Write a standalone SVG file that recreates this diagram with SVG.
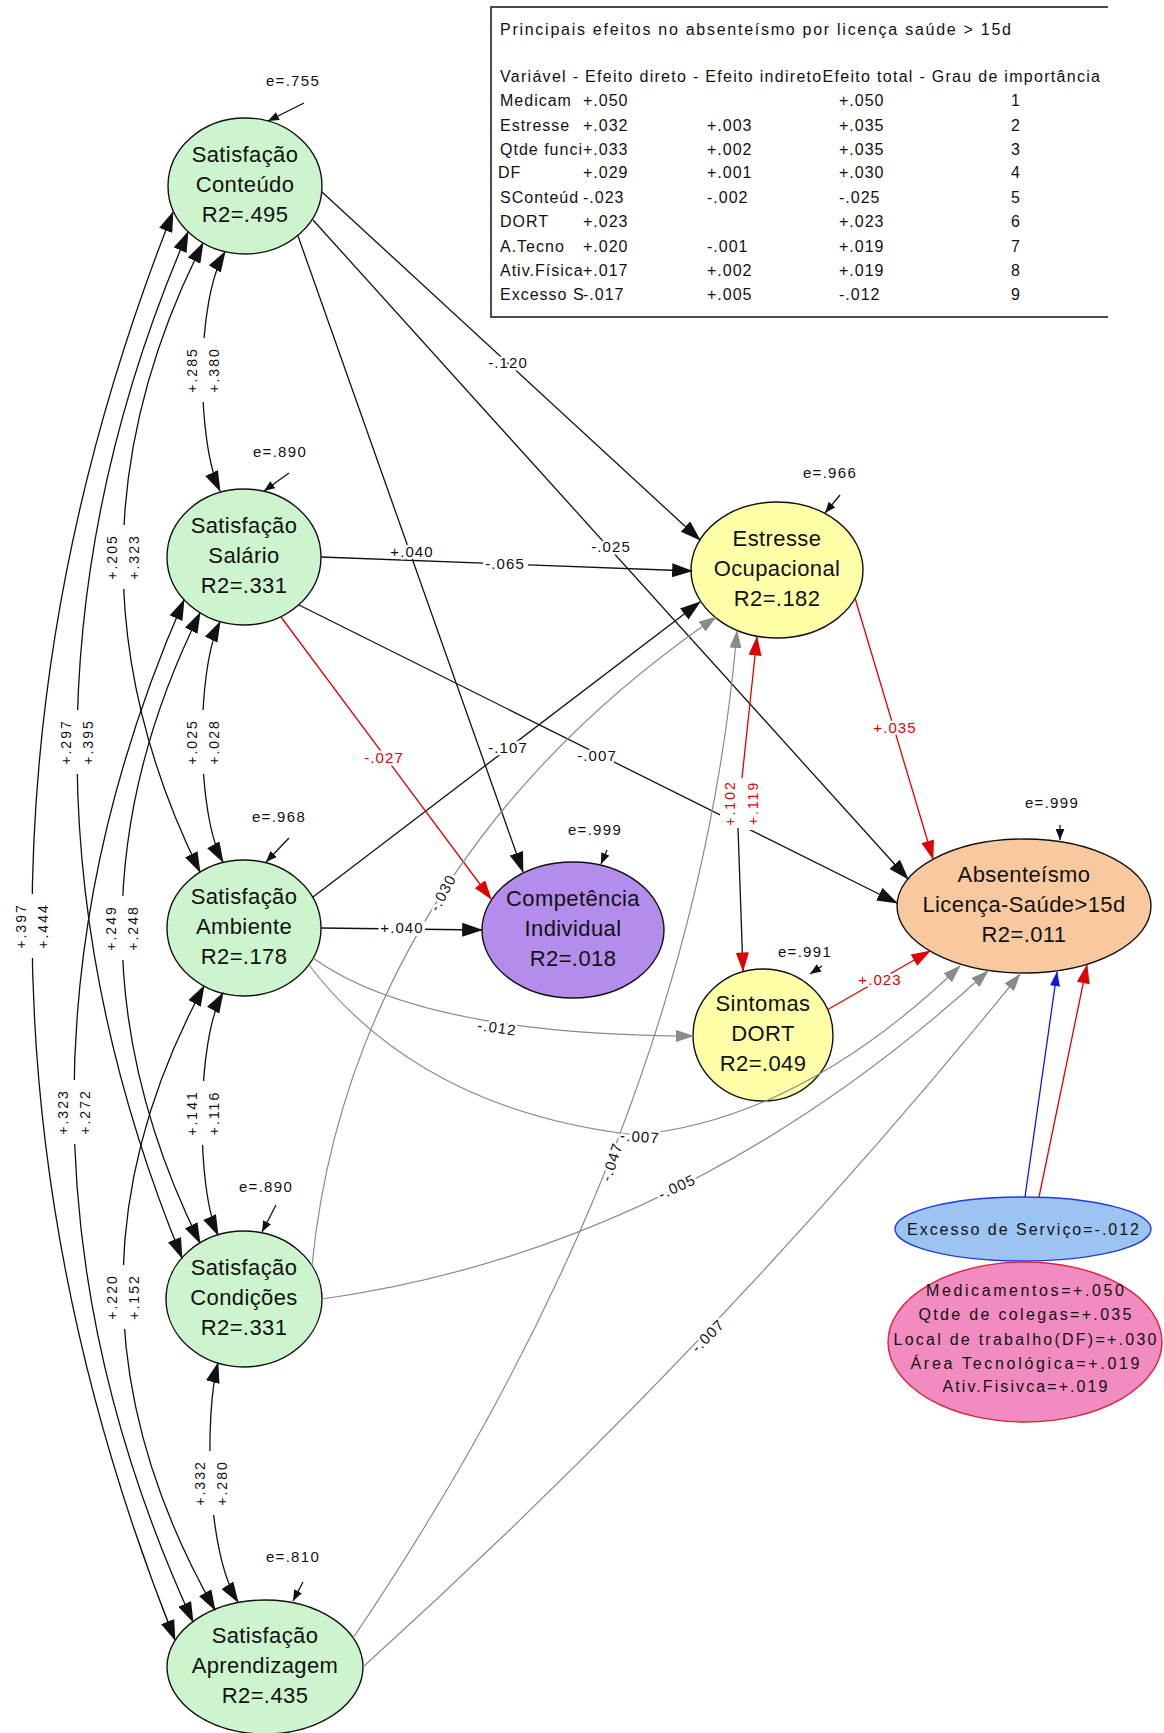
<svg xmlns="http://www.w3.org/2000/svg" width="1164" height="1733" viewBox="0 0 1164 1733">
<defs>
<style>
text{font-family:"Liberation Sans",Arial,sans-serif;fill:#111}
.nt{font-size:22px;text-anchor:middle;letter-spacing:0.4px}
.nd{stroke:#111;stroke-width:1.4}
.sat{fill:#cdf5cd}
.yel{fill:#ffffa8}
.pur{fill:#b48ceb}
.pch{fill:#f8c99e}
.ln{fill:none;stroke:#111;stroke-width:1.3}
.rd{stroke:#e00000}
.gr{stroke:#8a8a8a;stroke-width:1.2}
.bl{stroke:#1414e6}
.lb{font-size:15px;letter-spacing:1.1px;text-anchor:middle;stroke:#fff;stroke-width:5px;stroke-linejoin:round;paint-order:stroke}
.lr{fill:#e00000}
.cl{font-size:14px;letter-spacing:2px;text-anchor:middle}
.el{font-size:15px;letter-spacing:1.3px;text-anchor:middle}
.tb{font-size:16px;letter-spacing:1px}
.rk{text-anchor:middle}
.gap{fill:#fff}
</style>
<marker id="ak" viewBox="0 0 18 12" refX="17" refY="6" markerWidth="21" markerHeight="14" markerUnits="userSpaceOnUse" orient="auto-start-reverse"><path d="M0,0L18,6L0,12z" fill="#111"/></marker>
<marker id="ar" viewBox="0 0 18 12" refX="17" refY="6" markerWidth="20" markerHeight="13" markerUnits="userSpaceOnUse" orient="auto-start-reverse"><path d="M0,0L18,6L0,12z" fill="#e00000"/></marker>
<marker id="ag" viewBox="0 0 18 12" refX="17" refY="6" markerWidth="18" markerHeight="12" markerUnits="userSpaceOnUse" orient="auto-start-reverse"><path d="M0,0L18,6L0,12z" fill="#8a8a8a"/></marker>
<marker id="ab" viewBox="0 0 18 12" refX="17" refY="6" markerWidth="15" markerHeight="10" markerUnits="userSpaceOnUse" orient="auto-start-reverse"><path d="M0,0L18,6L0,12z" fill="#1414e6"/></marker>
<marker id="ae" viewBox="0 0 10 8" refX="10" refY="4" markerWidth="11" markerHeight="9" markerUnits="userSpaceOnUse" orient="auto"><path d="M0,0L10,4L0,8z" fill="#111"/></marker>
</defs>
<rect width="1164" height="1733" fill="#fff"/>

<!-- summary table of effects -->
<g id="effects-table">
<path d="M1108,7H491V317H1108" fill="none" stroke="#111" stroke-width="1.5"/>
<text class="tb" x="500" y="35" textLength="511" lengthAdjust="spacing" style="letter-spacing:0">Principais efeitos no absenteísmo por licença saúde &gt; 15d</text>
<text class="tb" x="500" y="82" textLength="600" lengthAdjust="spacing" style="letter-spacing:0">Variável - Efeito direto - Efeito indiretoEfeito total - Grau de importância</text>
<g class="tb">
<text x="500" y="106">Medicam</text><text x="583" y="106">+.050</text><text x="839" y="106">+.050</text><text class="rk" x="1016" y="106">1</text>
<text x="500" y="131">Estresse</text><text x="583" y="131">+.032</text><text x="707" y="131">+.003</text><text x="839" y="131">+.035</text><text class="rk" x="1016" y="131">2</text>
<text x="500" y="155">Qtde funci</text><text x="583" y="155">+.033</text><text x="707" y="155">+.002</text><text x="839" y="155">+.035</text><text class="rk" x="1016" y="155">3</text>
<text x="498" y="178">DF</text><text x="583" y="178">+.029</text><text x="707" y="178">+.001</text><text x="839" y="178">+.030</text><text class="rk" x="1016" y="178">4</text>
<text x="500" y="203">SConteúd</text><text x="583" y="203">-.023</text><text x="707" y="203">-.002</text><text x="839" y="203">-.025</text><text class="rk" x="1016" y="203">5</text>
<text x="500" y="227">DORT</text><text x="583" y="227">+.023</text><text x="839" y="227">+.023</text><text class="rk" x="1016" y="227">6</text>
<text x="500" y="252">A.Tecno</text><text x="583" y="252">+.020</text><text x="707" y="252">-.001</text><text x="839" y="252">+.019</text><text class="rk" x="1016" y="252">7</text>
<text x="500" y="276">Ativ.Física</text><text x="583" y="276">+.017</text><text x="707" y="276">+.002</text><text x="839" y="276">+.019</text><text class="rk" x="1016" y="276">8</text>
<text x="500" y="300">Excesso S</text><text x="583" y="300">-.017</text><text x="707" y="300">+.005</text><text x="839" y="300">-.012</text><text class="rk" x="1016" y="300">9</text>
</g>
</g>

<!-- latent variables -->
<g id="n-conteudo"><ellipse class="nd sat" cx="245" cy="186" rx="77" ry="68"/><text class="nt" x="245" y="162">Satisfação</text><text class="nt" x="245" y="192">Conteúdo</text><text class="nt" x="245" y="222">R2=.495</text></g>
<g id="n-salario"><ellipse class="nd sat" cx="244" cy="557" rx="77" ry="68"/><text class="nt" x="244" y="533">Satisfação</text><text class="nt" x="244" y="563">Salário</text><text class="nt" x="244" y="593">R2=.331</text></g>
<g id="n-ambiente"><ellipse class="nd sat" cx="244" cy="928" rx="77" ry="68"/><text class="nt" x="244" y="904">Satisfação</text><text class="nt" x="244" y="934">Ambiente</text><text class="nt" x="244" y="964">R2=.178</text></g>
<g id="n-condicoes"><ellipse class="nd sat" cx="244" cy="1299" rx="78" ry="68"/><text class="nt" x="244" y="1275">Satisfação</text><text class="nt" x="244" y="1305">Condições</text><text class="nt" x="244" y="1335">R2=.331</text></g>
<g id="n-aprendizagem"><ellipse class="nd sat" cx="265" cy="1667" rx="98" ry="67"/><text class="nt" x="265" y="1643">Satisfação</text><text class="nt" x="265" y="1673">Aprendizagem</text><text class="nt" x="265" y="1703">R2=.435</text></g>
<g id="n-estresse"><ellipse class="nd yel" cx="777" cy="570" rx="86" ry="68"/><text class="nt" x="777" y="546">Estresse</text><text class="nt" x="777" y="576">Ocupacional</text><text class="nt" x="777" y="606">R2=.182</text></g>
<g id="n-competencia"><ellipse class="nd pur" cx="573" cy="930" rx="91" ry="68"/><text class="nt" x="573" y="906">Competência</text><text class="nt" x="573" y="936">Individual</text><text class="nt" x="573" y="966">R2=.018</text></g>
<g id="n-dort"><ellipse class="nd yel" cx="763" cy="1035" rx="70" ry="66"/><text class="nt" x="763" y="1011">Sintomas</text><text class="nt" x="763" y="1041">DORT</text><text class="nt" x="763" y="1071">R2=.049</text></g>
<g id="n-absenteismo"><ellipse class="nd pch" cx="1024" cy="906" rx="127" ry="67"/><text class="nt" x="1024" y="882">Absenteísmo</text><text class="nt" x="1024" y="912">Licença-Saúde&gt;15d</text><text class="nt" x="1024" y="942">R2=.011</text></g>
<g id="n-excesso"><ellipse cx="1023" cy="1229" rx="128" ry="32" fill="#9cc4f2" stroke="#1e3ce6" stroke-width="1.4"/><text x="1023" y="1235" font-size="16" text-anchor="middle" textLength="232" lengthAdjust="spacing">Excesso de Serviço=-.012</text></g>
<g id="n-outros"><ellipse cx="1025" cy="1342" rx="137" ry="80" fill="#f28cc0" stroke="#e0203c" stroke-width="1.4"/>
<text x="1025" y="1296" font-size="16" text-anchor="middle" textLength="198" lengthAdjust="spacing">Medicamentos=+.050</text>
<text x="1025" y="1320" font-size="16" text-anchor="middle" textLength="213" lengthAdjust="spacing">Qtde de colegas=+.035</text>
<text x="1025" y="1345" font-size="16" text-anchor="middle" textLength="263" lengthAdjust="spacing">Local de trabalho(DF)=+.030</text>
<text x="1025" y="1369" font-size="16" text-anchor="middle" textLength="229" lengthAdjust="spacing">Área Tecnológica=+.019</text>
<text x="1025" y="1392" font-size="16" text-anchor="middle" textLength="165" lengthAdjust="spacing">Ativ.Fisivca=+.019</text>
</g>

<!-- paths, covariances, residual arrows and their coefficients -->
<g id="connectors">
<!-- covariances between satisfaction factors -->
<g class="ln" marker-start="url(#ak)" marker-end="url(#ak)">
<path d="M225,252C196,300 196,440 220,491"/>
<path d="M203,243Q44.5,556.5 200,872"/>
<path d="M188,232Q-31,739 182,1258"/>
<path d="M173,212Q-110,926 175,1640"/>
<path d="M220,622C196,670 196,814 223,862"/>
<path d="M200,613Q44,928 200,1243"/>
<path d="M184,600Q-40.5,1113 193,1622"/>
<path d="M223,993C196,1040 196,1188 218,1235"/>
<path d="M204,986Q36.5,1296 215,1610"/>
<path d="M218,1363C205,1410 205,1550 238,1602"/>
</g>
<g class="gap">
<rect x="186" y="338" width="34" height="64"/>
<rect x="106" y="525" width="34" height="64"/>
<rect x="60" y="710" width="34" height="64"/>
<rect x="15" y="894" width="34" height="64"/>
<rect x="186" y="710" width="34" height="64"/>
<rect x="105" y="896" width="34" height="64"/>
<rect x="57" y="1080" width="34" height="64"/>
<rect x="186" y="1081" width="34" height="64"/>
<rect x="106" y="1265" width="34" height="64"/>
<rect x="194" y="1451" width="34" height="64"/>
</g>
<g class="cl">
<text transform="translate(192,370) rotate(-90)" dy="5">+.285</text><text transform="translate(214,370) rotate(-90)" dy="5">+.380</text>
<text transform="translate(112,557) rotate(-90)" dy="5">+.205</text><text transform="translate(134,557) rotate(-90)" dy="5">+.323</text>
<text transform="translate(66,742) rotate(-90)" dy="5">+.297</text><text transform="translate(88,742) rotate(-90)" dy="5">+.395</text>
<text transform="translate(21,926) rotate(-90)" dy="5">+.397</text><text transform="translate(43,926) rotate(-90)" dy="5">+.444</text>
<text transform="translate(192,742) rotate(-90)" dy="5">+.025</text><text transform="translate(214,742) rotate(-90)" dy="5">+.028</text>
<text transform="translate(111,928) rotate(-90)" dy="5">+.249</text><text transform="translate(133,928) rotate(-90)" dy="5">+.248</text>
<text transform="translate(63,1112) rotate(-90)" dy="5">+.323</text><text transform="translate(85,1112) rotate(-90)" dy="5">+.272</text>
<text transform="translate(192,1113) rotate(-90)" dy="5">+.141</text><text transform="translate(214,1113) rotate(-90)" dy="5">+.116</text>
<text transform="translate(112,1297) rotate(-90)" dy="5">+.220</text><text transform="translate(134,1297) rotate(-90)" dy="5">+.152</text>
<text transform="translate(200,1483) rotate(-90)" dy="5">+.332</text><text transform="translate(222,1483) rotate(-90)" dy="5">+.280</text>
</g>

<!-- structural paths -->
<path class="ln" d="M322,192L700,540" marker-end="url(#ak)"/>
<path class="ln" d="M321,557L692,571" marker-end="url(#ak)"/>
<path class="ln" d="M313,897L700,602" marker-end="url(#ak)"/>
<path class="ln rd" d="M281,617L491,899" marker-end="url(#ar)"/>
<path class="ln" d="M321,928L482,930" marker-end="url(#ak)"/>
<path class="ln" d="M298,236L523,872" marker-end="url(#ak)"/>
<path class="ln" d="M313,220L908,879" marker-end="url(#ak)"/>
<path class="ln" d="M299,605L897,903" marker-end="url(#ak)"/>
<path class="ln rd" d="M855,598L933,859" marker-end="url(#ar)"/>
<path class="ln rd" d="M827,1010L930,951" marker-end="url(#ar)"/>
<path class="ln gr" d="M313,958Q420,1035 693,1036" marker-end="url(#ag)"/>
<path class="ln gr" d="M309,965Q420,1110 635,1135Q800,1120 960,966" marker-end="url(#ag)"/>
<path class="ln gr" d="M312,1266C330,1080 420,820 716,617" marker-end="url(#ag)"/>
<path class="ln gr" d="M322,1299Q685,1248 988,971" marker-end="url(#ag)"/>
<path class="ln gr" d="M353,1638Q694,1135 737,631" marker-end="url(#ag)"/>
<path class="ln gr" d="M363,1667Q723,1341 1020,974" marker-end="url(#ag)"/>
<path class="ln bl" d="M1025,1197L1057,972" marker-end="url(#ab)"/>
<path class="ln rd" d="M1039,1197L1087,965" marker-end="url(#ar)"/>
<!-- stress / DORT reciprocal paths -->
<rect class="gap" x="720" y="776" width="44" height="54"/>
<path class="ln rd" d="M742,778L757,637" marker-end="url(#ar)"/>
<path class="ln" d="M738,828L743,971" marker-end="url(#ar)"/>
<text class="cl lr" transform="translate(730,803) rotate(-90)" dy="5">+.102</text>
<text class="cl lr" transform="translate(753,803) rotate(-90)" dy="5">+.119</text>

<!-- clear space behind the horizontal coefficients -->
<rect class="gap" x="483" y="557" width="45" height="15"/>
<rect class="gap" x="380" y="921" width="45" height="15"/>

<!-- path coefficients -->
<text class="lb" x="508" y="363" dy="5">-.120</text>
<text class="lb" x="505" y="564" dy="5">-.065</text>
<text class="lb" x="508" y="748" dy="5">-.107</text>
<text class="lb lr" x="384" y="758" dy="5">-.027</text>
<text class="lb" x="402" y="928" dy="5">+.040</text>
<text class="lb" x="412" y="552" dy="5">+.040</text>
<text class="lb" x="611" y="547" dy="5">-.025</text>
<text class="lb" x="597" y="756" dy="5">-.007</text>
<text class="lb lr" x="895" y="728" dy="5">+.035</text>
<text class="lb lr" x="880" y="980" dy="5">+.023</text>
<text class="lb" transform="translate(497,1028) rotate(8)" dy="5">-.012</text>
<text class="lb" transform="translate(640,1137) rotate(4)" dy="5">-.007</text>
<text class="lb" transform="translate(443,893) rotate(-62)" dy="5">-.030</text>
<text class="lb" transform="translate(677,1187) rotate(-25)" dy="5">-.005</text>
<text class="lb" transform="translate(612,1162) rotate(-72)" dy="5">-.047</text>
<text class="lb" transform="translate(708,1336) rotate(-45)" dy="5">-.007</text>

<!-- residual terms -->
<g class="ln" marker-end="url(#ae)">
<path d="M304,103L268,121"/>
<path d="M289,473L264,491"/>
<path d="M289,838L266,862"/>
<path d="M276,1205L262,1232"/>
<path d="M303,1582L293,1601"/>
<path d="M840,495L825,513"/>
<path d="M607,850L601,864"/>
<path d="M1060,825L1060,840"/>
<path d="M822,966L810,974"/>
</g>
<g class="el">
<text x="293" y="86">e=.755</text>
<text x="280" y="457">e=.890</text>
<text x="279" y="822">e=.968</text>
<text x="266" y="1192">e=.890</text>
<text x="293" y="1562">e=.810</text>
<text x="830" y="478">e=.966</text>
<text x="595" y="835">e=.999</text>
<text x="1052" y="808">e=.999</text>
<text x="805" y="957">e=.991</text>
</g>
</g>
</svg>
